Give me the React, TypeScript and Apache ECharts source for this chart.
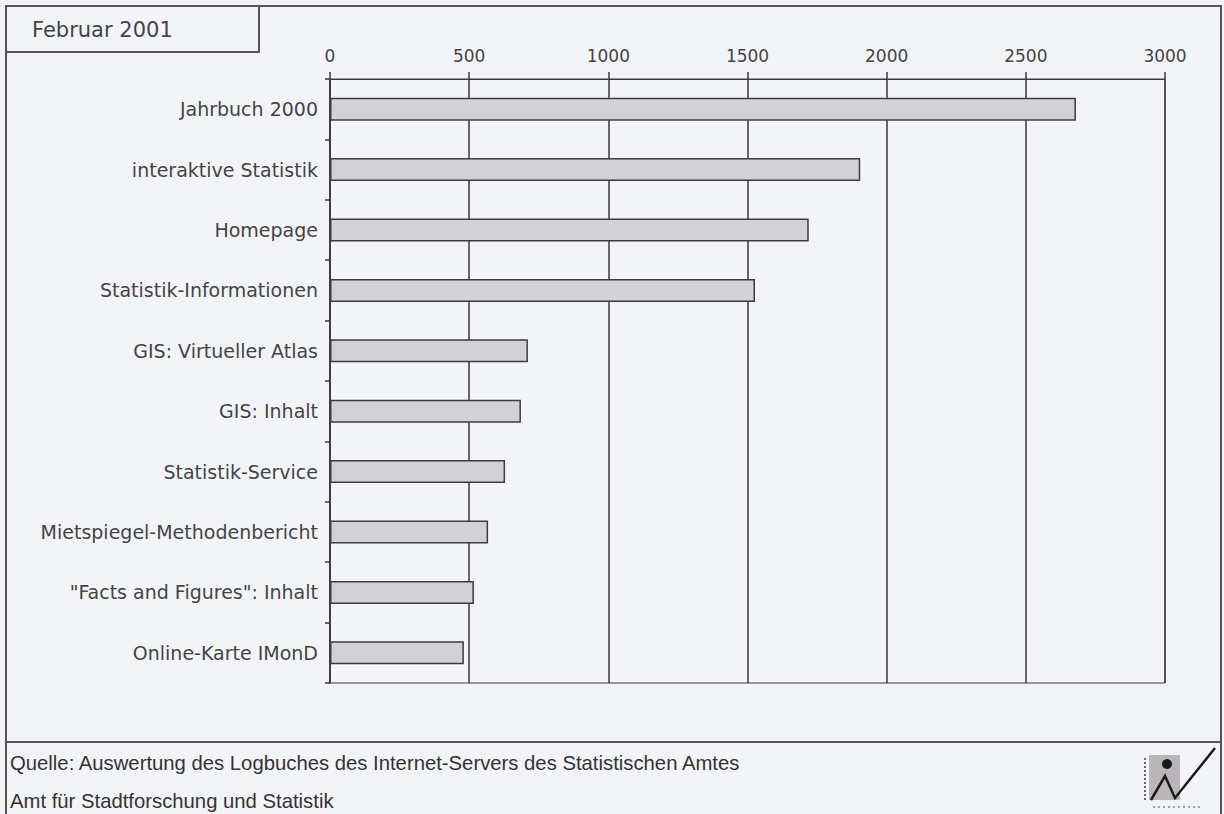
import React, { useEffect, useRef } from "react";
import * as echarts from "echarts";

const categories = [
  "Jahrbuch 2000",
  "interaktive Statistik",
  "Homepage",
  "Statistik-Informationen",
  "GIS: Virtueller Atlas",
  "GIS: Inhalt",
  "Statistik-Service",
  "Mietspiegel-Methodenbericht",
  "\"Facts and Figures\": Inhalt",
  "Online-Karte IMonD",
];
const values = [2680, 1905, 1720, 1527, 711, 686, 629, 568, 517, 481];
const axisMin = 0;
const axisMax = 3000;
const axisStep = 500;
const titleText = "Februar 2001";
const sourceText = "Quelle: Auswertung des Logbuches des Internet-Servers des Statistischen Amtes";
const orgText = "Amt für Stadtforschung und Statistik";

const W = 1224;
const H = 814;
const INK = "#3a3a3a";
const BG = "#f3f4f8";

export default function App() {
  const ref = useRef<HTMLDivElement>(null);
  useEffect(() => {
    document.body.style.margin = "0";
    const chart = echarts.init(ref.current!, null, { renderer: "svg", width: W, height: H });
    chart.setOption({
      animation: false,
      backgroundColor: BG,
      grid: {
        left: 330,
        right: W - 1165,
        top: 79,
        bottom: H - 683,
        show: true,
        borderColor: INK,
        borderWidth: 1,
        backgroundColor: "transparent",
      },
      xAxis: {
        type: "value",
        position: "top",
        min: axisMin,
        max: axisMax,
        interval: axisStep,
        axisLine: { show: true, lineStyle: { color: INK, width: 1 } },
        axisTick: { show: true, length: 7, inside: false, lineStyle: { color: INK, width: 1.5 } },
        axisLabel: {
          color: "#444",
          fontFamily: "DejaVu Sans",
          fontSize: 17,
          margin: 15,
          formatter: (v: number) => String(v),
        },
        splitLine: { show: true, lineStyle: { color: INK, width: 1.5 } },
      },
      yAxis: {
        type: "category",
        inverse: true,
        data: categories,
        axisLine: { show: true, lineStyle: { color: INK, width: 1.5 } },
        axisTick: { show: true, length: 5, inside: false, lineStyle: { color: INK, width: 1.5 } },
        axisLabel: { color: "#444", fontFamily: "DejaVu Sans", fontSize: 19, margin: 12 },
        splitLine: { show: false },
      },
      series: [
        {
          type: "bar",
          data: values,
          barWidth: 23,
          itemStyle: { color: "#d1d1d6", borderColor: "#3c3c3c", borderWidth: 1.5 },
          silent: true,
        },
      ],
      graphic: [
        {
          type: "rect",
          shape: { x: 6, y: 6, width: 1215, height: 830 },
          style: { fill: "none", stroke: "#555", lineWidth: 2 },
          silent: true,
        },
        {
          type: "rect",
          shape: { x: 6, y: 6, width: 253, height: 46 },
          style: { fill: "none", stroke: "#555", lineWidth: 2 },
          silent: true,
        },
        {
          type: "text",
          x: 32,
          y: 30,
          style: {
            text: titleText,
            fill: "#444",
            font: "21px 'DejaVu Sans'",
            textVerticalAlign: "middle",
          },
          silent: true,
        },
        {
          type: "line",
          shape: { x1: 6, y1: 742, x2: 1221, y2: 742 },
          style: { stroke: "#555", lineWidth: 2 },
          silent: true,
        },
        {
          type: "text",
          x: 10,
          y: 763,
          style: {
            text: sourceText,
            fill: "#333",
            font: "20.3px 'Liberation Sans'",
            textVerticalAlign: "middle",
          },
          silent: true,
        },
        {
          type: "text",
          x: 10,
          y: 801,
          style: {
            text: orgText,
            fill: "#333",
            font: "20.3px 'Liberation Sans'",
            textVerticalAlign: "middle",
          },
          silent: true,
        },
        {
          type: "group",
          silent: true,
          children: [
            {
              type: "rect",
              shape: { x: 1149, y: 755, width: 31, height: 45 },
              style: { fill: "#b9b5b8" },
            },
            {
              type: "circle",
              shape: { cx: 1167, cy: 764, r: 5 },
              style: { fill: "#1a1a1a" },
            },
            {
              type: "polyline",
              shape: { points: [[1151, 800], [1165, 776], [1175, 798], [1215, 748]] },
              style: { stroke: "#1a1a1a", lineWidth: 2.5, fill: "none" },
            },
            {
              type: "line",
              shape: { x1: 1145, y1: 758, x2: 1145, y2: 800 },
              style: { stroke: "#666", lineWidth: 2, lineDash: [2, 2] },
            },
            {
              type: "line",
              shape: { x1: 1153, y1: 807, x2: 1200, y2: 807 },
              style: { stroke: "#888", lineWidth: 1.5, lineDash: [2, 3] },
            },
          ],
        },
      ],
    });
    return () => chart.dispose();
  }, []);
  return (
    <div
      ref={ref}
      style={{ position: "absolute", left: 0, top: 0, width: W, height: H, background: BG }}
    />
  );
}
